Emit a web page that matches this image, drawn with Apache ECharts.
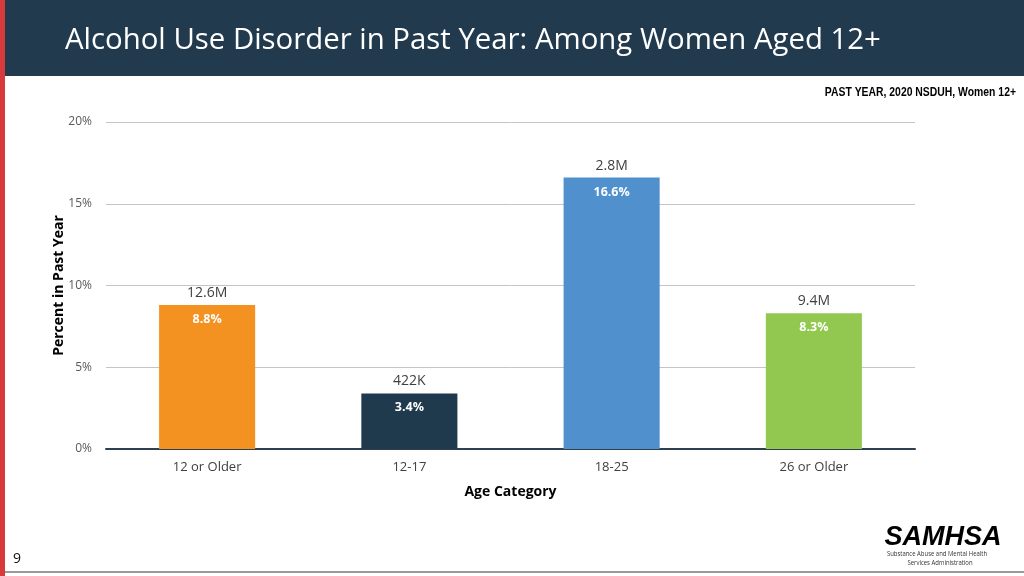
<!DOCTYPE html>
<html>
<head>
<meta charset="utf-8">
<script src="https://cdn.jsdelivr.net/npm/echarts@6/dist/echarts.min.js"></script>
<style>html,body{margin:0;padding:0;background:#fff}#c{width:1024px;height:576px}</style>
</head>
<body>
<div id="c"></div>
<script>
const categories = ['12 or Older', '12-17', '18-25', '26 or Older'];
const percentValues = [8.8, 3.4, 16.6, 8.3];
const countLabels = ['12.6M', '422K', '2.8M', '9.4M'];
const barColors = ['#f39220', '#1f3a4d', '#4f90cd', '#92c84f'];
const yTicks = [0, 5, 10, 15, 20];

const chart = echarts.init(document.getElementById('c'));
const font = '"Open Sans", "Noto Sans", sans-serif';
chart.setOption({
  animation: false,
  backgroundColor: '#ffffff',
  graphic: [
    { type: 'rect', shape: { x: 0, y: 0, width: 1024, height: 76 }, style: { fill: '#213a4e' }, z: 0 },
    { type: 'rect', shape: { x: 0, y: 0, width: 5, height: 576 }, style: { fill: '#d63a3a' }, z: 1 },
    { type: 'rect', shape: { x: 5, y: 571, width: 1019, height: 2 }, style: { fill: '#9a9a9a' }, z: 1 },
    { type: 'text', x: 65, y: 41, style: { text: 'Alcohol Use Disorder in Past Year: Among Women Aged 12+', fill: '#ffffff', font: '28.5px ' + font, textVerticalAlign: 'middle' }, scaleX: 1.03, z: 2 },
    { type: 'text', x: 1016, y: 92, scaleX: 0.8,
      style: { text: 'PAST YEAR, 2020 NSDUH, Women 12+', fill: '#000000', textAlign: 'right', textVerticalAlign: 'middle', font: 'bold 13px "Liberation Sans", Arial, sans-serif' }, z: 2 },
    { type: 'text', x: 13, y: 559, style: { text: '9', fill: '#111111', textVerticalAlign: 'middle', font: '14px ' + font }, z: 2 },
    { type: 'text', x: 943, y: 538,
      style: { text: 'SAMHSA', fill: '#000000', textAlign: 'center', textVerticalAlign: 'middle', font: 'italic bold 27px "Liberation Sans", Arial, sans-serif' }, z: 2 },
    { type: 'text', x: 937, y: 554, scaleX: 0.85,
      style: { text: 'Substance Abuse and Mental Health', fill: '#333333', textAlign: 'center', textVerticalAlign: 'middle', font: '7px ' + font }, z: 2 },
    { type: 'text', x: 940, y: 563, scaleX: 0.85,
      style: { text: 'Services Administration', fill: '#333333', textAlign: 'center', textVerticalAlign: 'middle', font: '7px ' + font }, z: 2 }
  ],
  grid: { left: 106, right: 109, top: 122, bottom: 127 },
  xAxis: {
    type: 'category',
    data: categories,
    name: 'Age Category',
    nameLocation: 'middle',
    nameGap: 36,
    nameMoveOverlap: false,
    nameTextStyle: { fontFamily: font, fontWeight: 'bold', fontSize: 14, color: '#000' },
    axisLine: { lineStyle: { color: '#2e3f50', width: 2 } },
    axisTick: { show: false },
    axisLabel: { fontFamily: font, fontSize: 13, color: '#404040', margin: 12 }
  },
  yAxis: {
    type: 'value',
    min: 0, max: 20, interval: 5,
    name: 'Percent in Past Year',
    nameLocation: 'middle',
    nameGap: 40,
    nameMoveOverlap: false,
    nameTextStyle: { fontFamily: font, fontWeight: 'bold', fontSize: 14, color: '#000' },
    axisLine: { show: false },
    axisTick: { show: false },
    splitLine: { lineStyle: { color: '#c4c4c4', width: 1 } },
    axisLabel: { fontFamily: font, fontSize: 12, color: '#595959', margin: 14,
      formatter: v => yTicks.includes(v) ? v + '%' : '' }
  },
  series: [
    {
      type: 'bar',
      barWidth: '47.5%',
      data: percentValues.map((v, i) => ({ value: v, itemStyle: { color: barColors[i] } })),
      label: { show: true, position: 'insideTop', distance: 8, formatter: p => p.value + '%',
        color: '#ffffff', fontFamily: font, fontWeight: 'bold', fontSize: 12.5 },
      z: 3
    },
    {
      type: 'bar',
      barWidth: '47.5%',
      barGap: '-100%',
      data: percentValues.map(v => ({ value: v, itemStyle: { color: 'rgba(0,0,0,0)' } })),
      label: { show: true, position: 'top', distance: 5, formatter: p => countLabels[p.dataIndex],
        color: '#404040', fontFamily: font, fontSize: 14 },
      z: 4
    }
  ]
});
</script>
</body>
</html>
